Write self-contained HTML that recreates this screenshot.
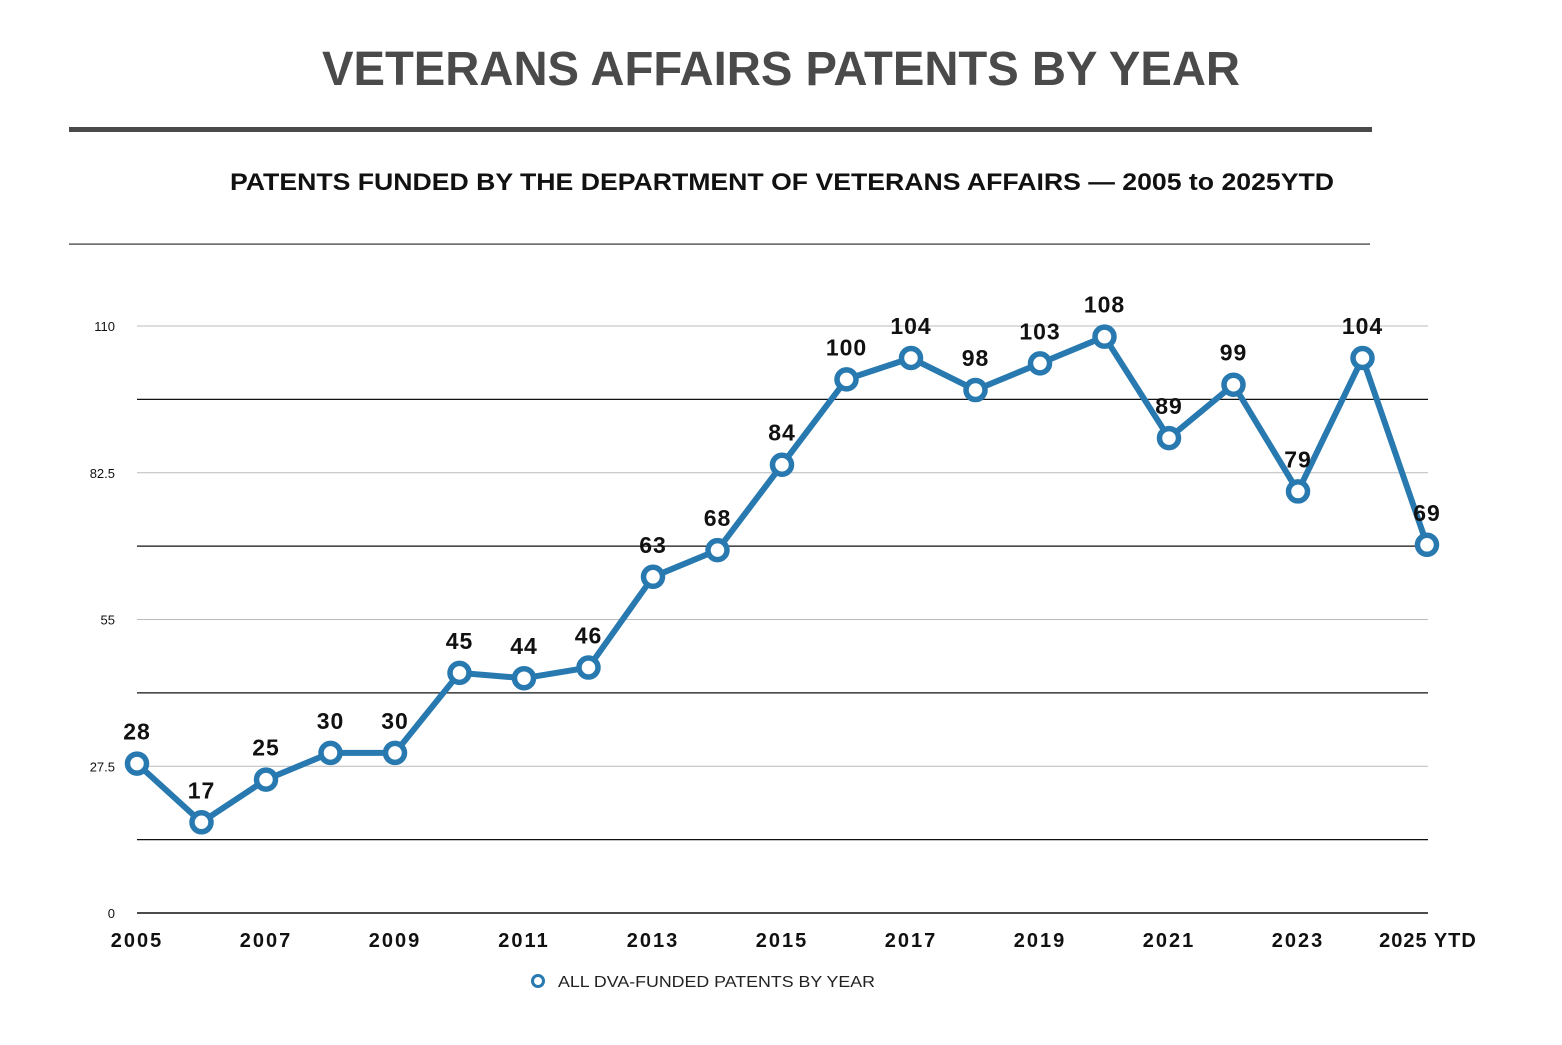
<!DOCTYPE html>
<html><head><meta charset="utf-8"><style>
body{margin:0;background:#fff;width:1562px;height:1040px;overflow:hidden;font-family:"Liberation Sans",sans-serif}
</style></head><body>
<svg width="1562" height="1040" font-family="Liberation Sans, sans-serif">
<text x="781" y="85" text-anchor="middle" font-size="48" font-weight="bold" fill="#4a4a4a" textLength="918" lengthAdjust="spacingAndGlyphs">VETERANS AFFAIRS PATENTS BY YEAR</text>
<rect x="69" y="127" width="1303" height="5" fill="#4a4a4a"/>
<text x="782" y="190" text-anchor="middle" font-size="24" font-weight="bold" fill="#111" textLength="1104" lengthAdjust="spacingAndGlyphs">PATENTS FUNDED BY THE DEPARTMENT OF VETERANS AFFAIRS — 2005 to 2025YTD</text>
<rect x="69" y="243.5" width="1301" height="1.2" fill="#333"/>
<g id="grid"></g><g id="plot"></g>
<circle cx="538" cy="981" r="5.5" fill="#fff" stroke="#2779b0" stroke-width="3"/>
<text x="558" y="987" font-size="16" fill="#222" textLength="317" lengthAdjust="spacingAndGlyphs">ALL DVA-FUNDED PATENTS BY YEAR</text>
</svg>
<script>
const years=[2005,2006,2007,2008,2009,2010,2011,2012,2013,2014,2015,2016,2017,2018,2019,2020,2021,2022,2023,2024,2025];
const values=[28,17,25,30,30,45,44,46,63,68,84,100,104,98,103,108,89,99,79,104,69];
const xTickLabels=["2005","2007","2009","2011","2013","2015","2017","2019","2021","2023","2025 YTD"];
const yTicks=[0,27.5,55,82.5,110];
const NS="http://www.w3.org/2000/svg";
const x0=137,x1=1427,yBase=913,yTop=326;
const xs=i=>x0+(x1-x0)*i/(years.length-1);
const ys=v=>yBase-(yBase-yTop)*v/110;
function mk(t,a,p){const e=document.createElementNS(NS,t);for(const k in a)e.setAttribute(k,a[k]);p.appendChild(e);return e;}
const grid=document.getElementById('grid'),plot=document.getElementById('plot');
for(let v=13.75;v<=110;v+=13.75){
 const light=Math.round(v/13.75)%2===0;
 const l=mk('line',{x1:137,x2:1428,y1:ys(v),y2:ys(v),stroke:light?'#bbb':'#111','stroke-width':light?1:1.2},grid);
 
 
}
const ax=mk('line',{x1:137,x2:1428,y1:yBase,y2:yBase,stroke:'#111','stroke-width':1.5},grid);


yTicks.forEach(v=>{const t=mk('text',{x:115,y:ys(v)+5,'text-anchor':'end','font-size':13,fill:'#111'},grid);t.textContent=v;
 
 });
xTickLabels.forEach((s,j)=>{const t=mk('text',{x:xs(j*2)+(j===10?1:0),y:947,'text-anchor':'middle','font-size':20,'font-weight':'bold',fill:'#111','letter-spacing':(j===10?1:2)},grid);t.textContent=s;
 
 });
const pl=mk('polyline',{points:values.map((v,i)=>xs(i)+','+ys(v)).join(' '),fill:'none',stroke:'#2779b0','stroke-width':6,'stroke-linejoin':'round'},plot);


values.forEach((v,i)=>{
 const c=mk('circle',{cx:xs(i),cy:ys(v),r:9.5,fill:'#fff',stroke:'#2779b0','stroke-width':5.5},plot);
 
 
 const t=mk('text',{x:xs(i),y:ys(v)-24,'text-anchor':'middle','font-size':23,'font-weight':'bold',fill:'#111','letter-spacing':1},plot);t.textContent=v;
 
 
});
</script>
</body></html>
